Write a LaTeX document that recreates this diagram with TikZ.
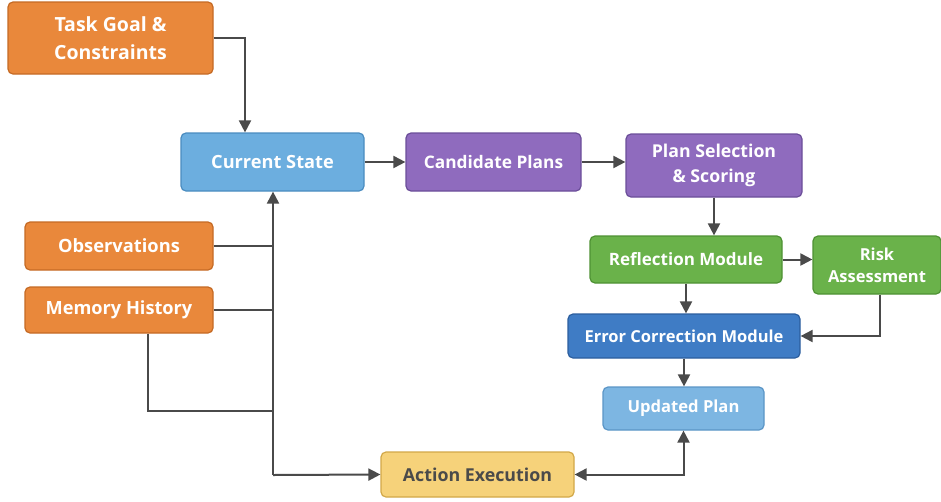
\documentclass[tikz,border=0pt]{standalone}
\usepackage{fontspec}
\setmainfont{Open Sans}
\usepackage{xcolor}
\usepackage{tikz}
\usetikzlibrary{arrows.meta}

\definecolor{goalorange}{HTML}{E9883B}
\definecolor{goalorangeline}{HTML}{C56A24}
\definecolor{stateblue}{HTML}{6CAEDF}
\definecolor{stateblueline}{HTML}{4A8CC0}
\definecolor{planpurple}{HTML}{8F6BBE}
\definecolor{planpurpleline}{HTML}{6B4E99}
\definecolor{reflgreen}{HTML}{6AB24A}
\definecolor{reflgreenline}{HTML}{4E9133}
\definecolor{errblue}{HTML}{3F7CC5}
\definecolor{errblueline}{HTML}{2C5E9E}
\definecolor{updblue}{HTML}{7DB6E2}
\definecolor{updblueline}{HTML}{5A95C6}
\definecolor{actyellow}{HTML}{F6D27A}
\definecolor{actyellowline}{HTML}{D2A848}
\definecolor{linkgray}{HTML}{4A4A4A}

\begin{document}
\begin{tikzpicture}[x=1pt, y=-1pt,
    box/.style={rectangle, draw, rounded corners=5pt, line width=1.2pt, text=white, align=center, inner sep=0pt},
    fs/.style args={#1/#2}{font=\fontsize{#1}{#2}\selectfont\bfseries},
    orangebox/.style={box, fill=goalorange, draw=goalorangeline},
    statebox/.style={box, fill=stateblue, draw=stateblueline},
    purplebox/.style={box, fill=planpurple, draw=planpurpleline},
    greenbox/.style={box, fill=reflgreen, draw=reflgreenline},
    errbox/.style={box, fill=errblue, draw=errblueline},
    updbox/.style={box, fill=updblue, draw=updblueline},
    actbox/.style={box, fill=actyellow, draw=actyellowline, text=linkgray},
    line/.style={draw=linkgray, line width=2pt},
    link/.style={line, -{Triangle[length=12pt,width=12pt]}}]
    \useasboundingbox (0,0) rectangle (941,501);

    \node[orangebox, fs=19.5/28, minimum width=205, minimum height=72] (goal) at (110.5,38) {Task Goal \&\\Constraints};
    \node[orangebox, fs=18.3/22, minimum width=188, minimum height=48] (obs) at (119,246) {Observations};
    \node[orangebox, fs=18.2/22, minimum width=188, minimum height=46] (mem) at (119,310) {Memory History};
    \node[statebox, fs=18.2/22, minimum width=183, minimum height=58] (cur) at (272.5,162) {Current State};
    \node[purplebox, fs=17.3/22, minimum width=175, minimum height=58] (cand) at (493.5,162) {Candidate Plans};
    \node[purplebox, fs=17.7/25, minimum width=176, minimum height=63] (sel) at (714,165.5) {Plan Selection\\\& Scoring};
    \node[greenbox, fs=17/22, minimum width=192, minimum height=47] (refl) at (686,259.5) {Reflection Module};
    \node[greenbox, fs=16.5/22, minimum width=128, minimum height=58] (risk) at (877,265) {Risk\\Assessment};
    \node[errbox, fs=16.5/22, minimum width=232, minimum height=44] (err) at (684,336) {Error Correction Module};
    \node[updbox, fs=16.6/22, minimum width=161, minimum height=43] (upd) at (683.5,408.5) {Updated Plan};
    \node[actbox, fs=17.8/22, minimum width=193, minimum height=45] (act) at (477.5,474.5) {Action Execution};

    \coordinate (busend) at (273,475);
    \coordinate (memjoin) at (273,411);

    % main flow
    \draw[link] (goal.east) -| ([xshift=-27.5]cur.north);
    \draw[link] (cur) -- (cand);
    \draw[link] (cand) -- (sel.west |- cand);
    \draw[link] (sel.south) -- (sel.south |- refl.north);
    \draw[link] (refl.east) -- (refl.east -| risk.west);
    \draw[link] (refl.south) -- (refl.south |- err.north);
    \draw[link] ([xshift=3]risk.south) |- (err.east);
    \draw[link] (err.south) -- (err.south |- upd.north);
    \draw[line, {Triangle[length=12pt,width=12pt]}-{Triangle[length=12pt,width=12pt]}] (act.east) -| (upd.south);

    % inputs collected on the left
    \draw[line] (obs.east) -- (obs.east -| busend);
    \draw[line] (mem.east) -- (mem.east -| busend);
    \draw[line] ([xshift=29]mem.south) |- (memjoin);
    \draw[link] (busend) -- (busend |- cur.south);
    \draw[link] (busend) -- (act.west);
\end{tikzpicture}
\end{document}
